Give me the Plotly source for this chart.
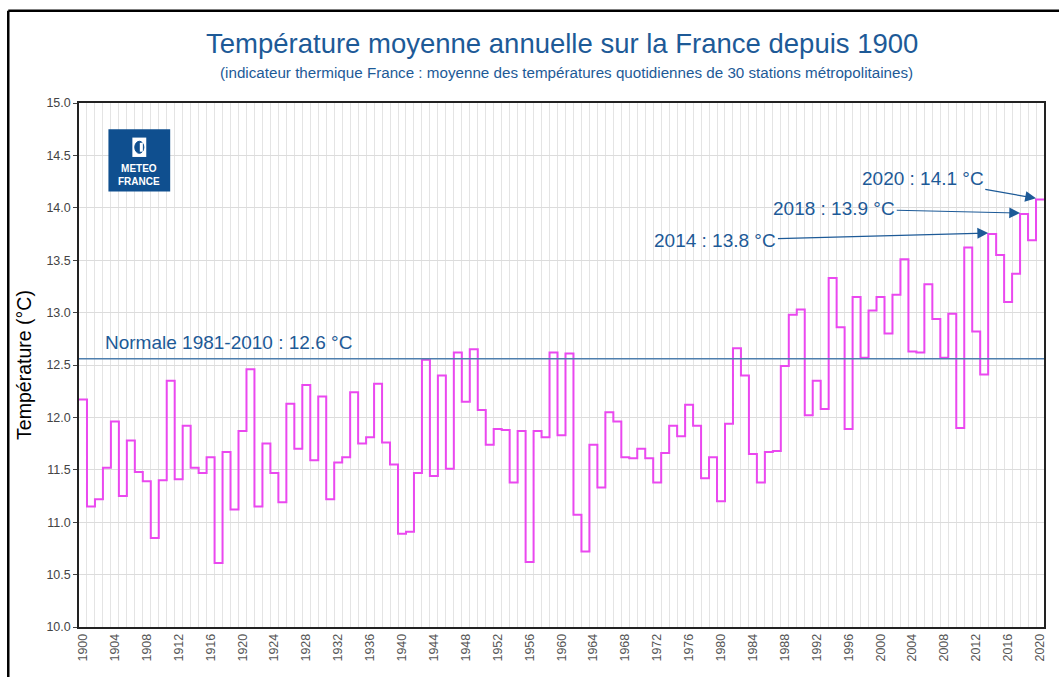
import plotly.graph_objects as go

# Indicateur thermique France, moyenne annuelle (°C)
years = list(range(1900, 2021))
temps = [
    12.17, 11.15, 11.22, 11.52, 11.96, 11.25, 11.78, 11.48, 11.39, 10.85,  # 1900-1909
    11.40, 12.35, 11.41, 11.92, 11.52, 11.47, 11.62, 10.61, 11.67, 11.12,  # 1910-1919
    11.87, 12.46, 11.15, 11.75, 11.47, 11.19, 12.13, 11.70, 12.31, 11.59,  # 1920-1929
    12.20, 11.22, 11.57, 11.62, 12.24, 11.75, 11.81, 12.32, 11.76, 11.55,  # 1930-1939
    10.89, 10.91, 11.47, 12.55, 11.44, 12.40, 11.51, 12.62, 12.15, 12.65,  # 1940-1949
    12.07, 11.74, 11.89, 11.88, 11.38, 11.87, 10.62, 11.87, 11.81, 12.62,  # 1950-1959
    11.83, 12.61, 11.07, 10.72, 11.74, 11.33, 12.05, 11.96, 11.62, 11.61,  # 1960-1969
    11.70, 11.61, 11.38, 11.66, 11.92, 11.82, 12.12, 11.92, 11.42, 11.62,  # 1970-1979
    11.20, 11.94, 12.66, 12.40, 11.65, 11.38, 11.67, 11.68, 12.49, 12.98,  # 1980-1989
    13.03, 12.02, 12.35, 12.08, 13.33, 12.86, 11.89, 13.15, 12.57, 13.02,  # 1990-1999
    13.15, 12.80, 13.17, 13.51, 12.63, 12.62, 13.27, 12.94, 12.57, 12.99,  # 2000-2009
    11.90, 13.62, 12.82, 12.41, 13.75, 13.55, 13.10, 13.37, 13.94, 13.69,  # 2010-2019
    14.08,                                                                  # 2020
]
normale = 12.56
normale_label = "Normale 1981-2010 : 12.6 °C"
records = {2014: "2014 : 13.8 °C", 2018: "2018 : 13.9 °C", 2020: "2020 : 14.1 °C"}
tick_years = years[::4]
y_ticks = [10.0, 10.5, 11.0, 11.5, 12.0, 12.5, 13.0, 13.5, 14.0, 14.5, 15.0]

BLUE = "#1d5a97"
LOGO = "#0f4f8f"
FONT = "Liberation Sans, Arial, sans-serif"

# chaque année occupe l'intervalle [année, année+1]
x_edges = years + [years[-1] + 1]
y_steps = temps + [temps[-1]]

fig = go.Figure()
fig.add_trace(go.Scatter(
    x=x_edges, y=y_steps, mode="lines", line_shape="hv",
    line=dict(color="#ea48ef", width=2), hoverinfo="skip", showlegend=False,
))
fig.add_trace(go.Scatter(
    x=[x_edges[0], x_edges[-1]], y=[normale, normale], mode="lines",
    line=dict(color="#4f7fae", width=1.5), hoverinfo="skip", showlegend=False,
))

fig.update_layout(
    width=1059, height=677,
    margin=dict(l=79, r=12, t=103, b=50),
    paper_bgcolor="white", plot_bgcolor="white",
    font=dict(family=FONT, color="#333"),
)

# titre et sous-titre
fig.add_annotation(xref="paper", yref="paper", x=0.5, y=1.1126,
                   xanchor="center", yanchor="middle", showarrow=False,
                   text="Température moyenne annuelle sur la France depuis 1900",
                   font=dict(family=FONT, size=27.5, color=BLUE))
fig.add_annotation(xref="paper", yref="paper", x=0.505, y=1.0573,
                   xanchor="center", yanchor="middle", showarrow=False,
                   text="(indicateur thermique France : moyenne des températures "
                        "quotidiennes de 30 stations métropolitaines)",
                   font=dict(family=FONT, size=15.2, color=BLUE))

fig.update_xaxes(
    range=[x_edges[0], x_edges[-1]],
    tickmode="array",
    tickvals=[y + 0.5 for y in tick_years],
    ticktext=[str(y) for y in tick_years],
    tickangle=-90, tickfont=dict(size=12.5, color="#555"),
    showgrid=False, zeroline=False,
    showline=True, linecolor="#222", linewidth=1.5, mirror=True,
    minor=dict(tickmode="linear", tick0=1900, dtick=1, showgrid=True,
               gridcolor="#e4e4e4", gridwidth=1, ticks=""),
)
fig.update_yaxes(
    range=[10, 15], tickmode="array", tickvals=y_ticks,
    ticktext=[f"{v:.1f}" for v in y_ticks],
    tickfont=dict(size=12.5, color="#444"),
    ticks="outside", ticklen=4, tickcolor="#444",
    showgrid=True, gridcolor="#dcdcdc", gridwidth=1, zeroline=False,
    showline=True, linecolor="#222", linewidth=1.5, mirror=True,
    title=dict(text="Température (°C)", font=dict(size=19.5, color="black"), standoff=10),
)

# cadre extérieur de l'image
fig.add_shape(type="line", xref="paper", yref="paper",
              x0=-0.0733, x1=1.02, y0=1.176, y1=1.176,
              line=dict(color="black", width=2.5))
fig.add_shape(type="line", xref="paper", yref="paper",
              x0=-0.0733, x1=-0.0733, y0=1.176, y1=-0.12,
              line=dict(color="black", width=2.5))

# logo Météo-France
fig.add_shape(type="rect", xref="paper", yref="paper",
              x0=0.0305, x1=0.0945, y0=0.831, y1=0.95,
              fillcolor=LOGO, line=dict(width=0))
fig.add_shape(type="rect", xref="paper", yref="paper",
              x0=0.0553, x1=0.0697, y0=0.897, y1=0.934,
              fillcolor="white", line=dict(width=0))
fig.add_shape(type="circle", xref="paper", yref="paper",
              x0=0.0578, x1=0.0672, y0=0.904, y1=0.927,
              fillcolor=LOGO, line=dict(color=LOGO, width=1))
fig.add_shape(type="rect", xref="paper", yref="paper",
              x0=0.0630, x1=0.0662, y0=0.907, y1=0.924,
              fillcolor="white", line=dict(width=0))
fig.add_annotation(xref="paper", yref="paper", x=0.0625, y=0.862,
                   xanchor="center", yanchor="middle",
                   text="<b>METEO<br>FRANCE</b>", showarrow=False,
                   font=dict(size=10, color="white", family=FONT))

# libellé de la normale
fig.add_annotation(x=1903, y=normale, xref="x", yref="y",
                   xanchor="left", yanchor="bottom", yshift=4,
                   text=normale_label, showarrow=False,
                   font=dict(size=19, color=BLUE))

# flèches des records
text_pos = {2014: (1979.8, 13.69), 2018: (1994.7, 13.99), 2020: (2005.8, 14.28)}
for yr, label in records.items():
    v = temps[years.index(yr)]
    tx, ty = text_pos[yr]
    fig.add_annotation(
        x=yr, y=v + 0.01, xref="x", yref="y",
        ax=tx, ay=ty, axref="x", ayref="y",
        text=label, showarrow=True,
        arrowhead=2, arrowsize=1.8, arrowwidth=1.2, arrowcolor=BLUE,
        font=dict(size=19, color=BLUE),
    )

fig.write_html("out.html", config={"displayModeBar": False},
               post_script="document.body.style.margin='0';")
